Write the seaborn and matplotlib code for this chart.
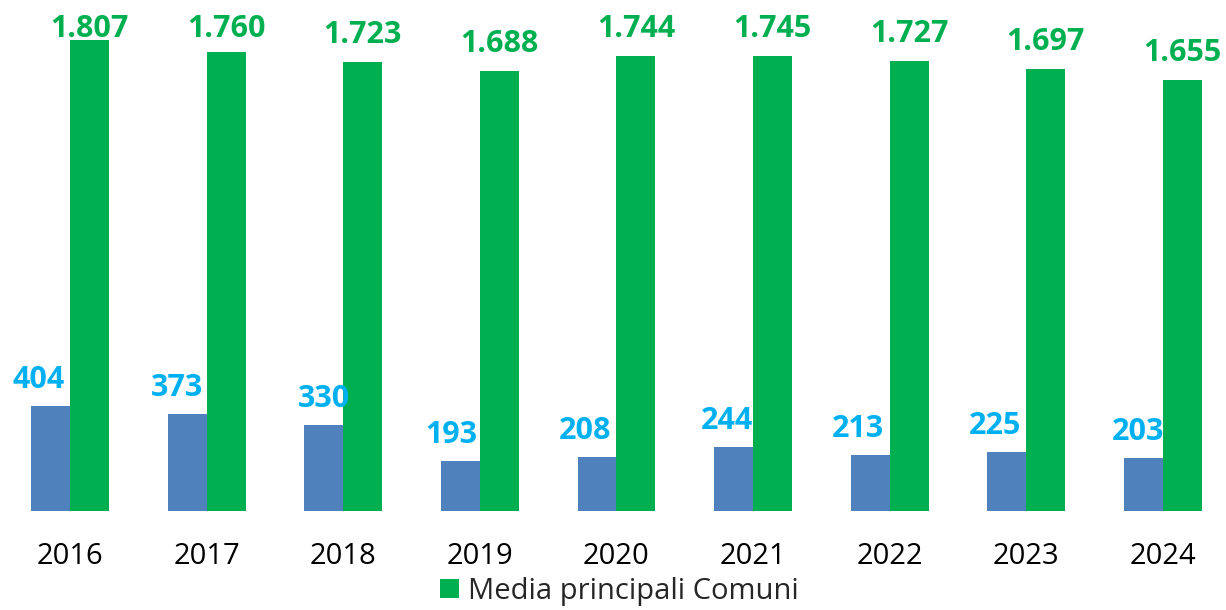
import matplotlib
matplotlib.use("Agg")
import matplotlib.pyplot as plt
import seaborn as sns
import pandas as pd

# Values per year
years = ["2016", "2017", "2018", "2019", "2020", "2021", "2022", "2023", "2024"]
comune_values = [404, 373, 330, 193, 208, 244, 213, 225, 203]
media_values = [1807, 1760, 1723, 1688, 1744, 1745, 1727, 1697, 1655]
series_names = ["Comune", "Media principali Comuni"]

# Horizontal nudges (px) for the blue value labels
comune_label_dx = [-12, -10, 0, -9, -12, -7, -12, -12, -6]

BLUE = "#4F81BD"
GREEN = "#00B050"
BLUE_TEXT = "#00B0F0"
GREEN_TEXT = "#00B050"

df = pd.DataFrame({
    "Anno": years * 2,
    "Serie": [series_names[0]] * len(years) + [series_names[1]] * len(years),
    "Valore": comune_values + media_values,
})

sns.set_theme(style="white")
plt.rcParams["font.family"] = ["Open Sans", "DejaVu Sans"]

W, H, DPI = 12.26, 6.10, 100
fig = plt.figure(figsize=(W, H), dpi=DPI)
ax = fig.add_axes([0, 99 / 610, 1, 511 / 610])

sns.barplot(
    data=df, x="Anno", y="Valore", hue="Serie",
    palette=[BLUE, GREEN], width=0.57, dodge=True,
    saturation=1, edgecolor="none", linewidth=0, ax=ax,
)

ax.set_xlim(-0.512, 8.461)
ax.set_ylim(0, 1960)
ax.set_xlabel("")
ax.set_ylabel("")
ax.set_yticks([])
for s in ax.spines.values():
    s.set_visible(False)
ax.tick_params(axis="x", length=0, pad=22, labelsize=21, labelcolor="black")

# Legend showing only the green series
handles, labels = ax.get_legend_handles_labels()
ax.get_legend().remove()
fig.legend([handles[1]], [labels[1]], loc="lower center",
           bbox_to_anchor=(0.505, -0.012), frameon=False, fontsize=21,
           handlelength=0.65, handleheight=0.65, handletextpad=0.3,
           borderaxespad=0)

fig.canvas.draw()
to_data = ax.transData.inverted()
fig_h_px = H * DPI

# Value labels for the blue bars
for bar, val, dx in zip(ax.containers[0].patches, comune_values, comune_label_dx):
    cx = bar.get_x() + bar.get_width() / 2
    px, py = ax.transData.transform((cx, bar.get_height()))
    lx, ly = to_data.transform((px + dx, py + 18))
    ax.text(lx, ly, f"{val}", ha="center", va="baseline", color=BLUE_TEXT,
            fontsize=22, fontweight="bold", clip_on=False, zorder=5)

# Value labels for the green bars, kept inside the chart area
for bar, val in zip(ax.containers[1].patches, media_values):
    cx = bar.get_x() + bar.get_width() / 2
    px, py = ax.transData.transform((cx, bar.get_height()))
    base = min(py + 19, fig_h_px - 37)
    lx, ly = to_data.transform((px, base))
    label = f"{val:,}".replace(",", ".")
    ax.text(lx, ly, label, ha="center", va="baseline", color=GREEN_TEXT,
            fontsize=22, fontweight="bold", clip_on=False, zorder=5)

fig.savefig("out.png", dpi=DPI)
